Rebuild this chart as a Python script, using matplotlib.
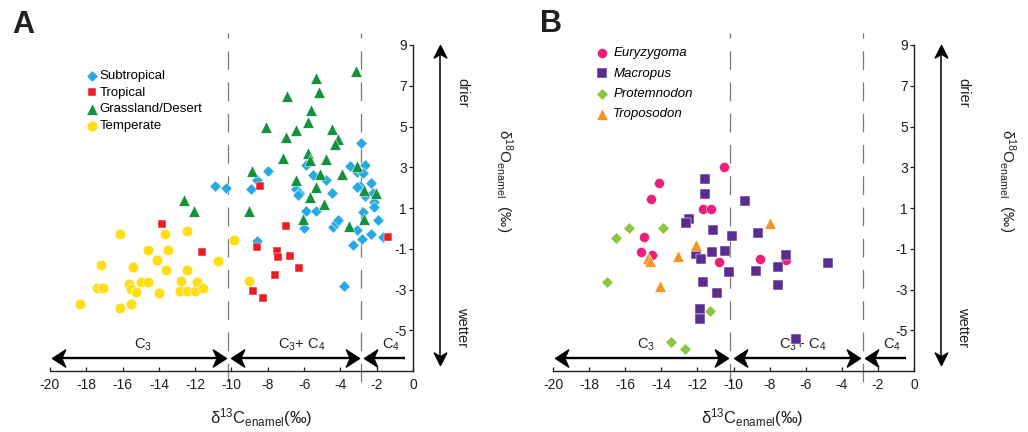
import numpy as np
import matplotlib
matplotlib.use("Agg")
import matplotlib.pyplot as plt
from matplotlib.path import Path

plt.rcParams['font.family'] = ['Liberation Sans', 'DejaVu Sans']
plt.rcParams['mathtext.fontset'] = 'custom'
plt.rcParams['mathtext.rm'] = 'Liberation Sans'
plt.rcParams['mathtext.it'] = 'Liberation Sans:italic'
plt.rcParams['mathtext.bf'] = 'Liberation Sans:bold'
plt.rcParams['axes.unicode_minus'] = False

# ---------------- Panel A: modern kangaroos by habitat ----------------
subtropical_c = [-10.91, -10.32, -8.94, -8.58, -7.97, -8.61, -5.91, -5.53, -6.45, -6.26,
                 -4.81, -4.48, -5.90, -5.34, -5.99, -4.39, -4.24, -4.15, -3.47, -3.10,
                 -2.88, -2.64, -2.77, -2.92, -2.64, -2.31, -2.22, -2.13, -2.13, -2.77,
                 -1.95, -3.10, -2.83, -2.31, -1.67, -3.29, -3.78, -6.35, -3.07]
subtropical_o = [2.09, 1.96, 1.93, 2.35, 2.82, -0.64, 3.13, 2.61, 1.93, 1.76,
                 2.35, 1.76, 0.83, 0.83, 0.00, 0.09, 0.26, 0.39, 3.04, 2.79,
                 4.18, 3.12, 2.71, 2.09, 1.60, 2.22, 1.73, 1.27, 1.04, 0.78,
                 0.42, -0.07, -0.53, -0.28, -0.43, -0.80, -2.85, 1.65, 2.02]

tropical_c = [-13.85, -11.61, -8.43, -8.58, -7.00, -7.51, -7.42, -6.78, -6.26, -7.58,
              -8.83, -8.25, -1.40]
tropical_o = [0.21, -1.18, 2.09, -0.92, 0.13, -1.10, -1.41, -1.34, -1.95, -2.31,
              -3.09, -3.42, -0.40]

grassland_c = [-12.62, -12.05, -8.85, -9.04, -8.10, -6.92, -7.00, -7.14, -6.45, -5.77,
               -5.64, -5.34, -5.16, -4.48, -4.11, -4.30, -5.77, -5.67, -4.79, -6.45,
               -5.12, -3.93, -5.34, -5.67, -4.90, -6.04, -3.51, -3.10, -3.13, -2.70,
               -2.70, -2.04]
grassland_o = [1.37, 0.83, 2.84, 0.83, 5.00, 6.50, 4.47, 3.44, 4.83, 5.23,
               5.81, 7.37, 6.71, 4.87, 4.38, 4.15, 3.69, 3.36, 3.40, 2.38,
               2.68, 2.68, 2.02, 1.53, 1.21, 0.45, 0.13, 3.04, 7.73, 1.89,
               0.45, 1.73]

temperate_c = [-18.35, -17.39, -17.10, -17.21, -16.14, -16.14, -15.63, -15.56, -15.26, -15.41,
               -15.54, -14.99, -14.62, -14.58, -14.12, -13.98, -13.61, -13.66, -13.52, -12.78,
               -12.84, -12.47, -12.47, -12.47, -12.01, -11.92, -11.59, -10.76, -9.86, -9.04]
temperate_o = [-3.70, -2.93, -2.93, -1.78, -0.26, -3.91, -2.72, -2.98, -3.14, -1.90,
               -3.70, -2.63, -2.63, -1.05, -1.57, -3.17, -2.03, -0.26, -1.08, -2.60,
               -3.09, -3.09, -2.06, -0.15, -3.09, -2.63, -2.93, -1.59, -0.59, -2.60]

# ---------------- Panel B: fossil kangaroo genera ----------------
euryzygoma_c = [-10.50, -14.10, -14.55, -11.70, -11.24, -14.97, -15.10, -14.50, -10.82, -8.54, -7.07]
euryzygoma_o = [3.00, 2.24, 1.42, 0.95, 0.95, -0.41, -1.15, -1.31, -1.67, -1.52, -1.56]

macropus_c = [-11.57, -11.57, -9.35, -12.49, -12.62, -11.11, -10.08, -8.67, -12.10, -11.79,
              -11.20, -10.49, -10.27, -8.73, -7.51, -7.11, -4.76, -11.70, -10.93, -7.51,
              -11.83, -11.83, -6.56]
macropus_o = [2.42, 1.68, 1.36, 0.46, 0.24, -0.08, -0.36, -0.21, -1.26, -1.52,
              -1.15, -1.10, -2.16, -2.10, -1.88, -1.31, -1.72, -2.65, -3.19, -2.78,
              -3.98, -4.47, -5.45]

protemnodon_c = [-16.51, -15.78, -13.90, -16.99, -11.28, -13.48, -12.71]
protemnodon_o = [-0.49, 0.03, 0.00, -2.65, -4.04, -5.60, -5.93]

troposodon_c = [-7.99, -12.07, -13.08, -14.73, -14.64, -14.09]
troposodon_o = [0.28, -0.82, -1.34, -1.47, -1.60, -2.83]

# photosynthetic pathway boundaries and zone labels
boundaries = [-10.2, -2.85]
zone_arrows = [(-19.9, -10.3, 'both'), (-10.0, -3.0, 'both'), (-2.7, -0.45, 'left')]
zone_labels = ['C$_{3}$', 'C$_{3}$+ C$_{4}$', 'C$_{4}$']
zone_label_x = [-14.85, -6.15, -1.2]

x_ticks = list(range(-20, 1, 2))
y_ticks = [-5, -3, -1, 1, 3, 5, 7, 9]

INK = '#231f20'
W, H = 1028, 432
fig = plt.figure(figsize=(W / 100, H / 100), dpi=100)


def px_box(left, top, right, bottom):
    return [left / W, 1 - bottom / H, (right - left) / W, (bottom - top) / H]


def stealth(angle_deg, half_width=0.65):
    verts = np.array([[0, 0], [-1, half_width], [-0.7, 0], [-1, -half_width], [0, 0]], float)
    a = np.deg2rad(angle_deg)
    rot = np.array([[np.cos(a), -np.sin(a)], [np.sin(a), np.cos(a)]])
    verts = verts @ rot.T
    codes = [Path.MOVETO, Path.LINETO, Path.LINETO, Path.LINETO, Path.CLOSEPOLY]
    return Path(verts, codes)


def setup_axes(ax):
    ax.set_xlim(-20, 0)
    ax.set_ylim(-7, 9)
    ax.spines['top'].set_visible(False)
    ax.spines['right'].set_visible(False)
    ax.spines['left'].set_position(('data', 0))
    for s in ('left', 'bottom'):
        ax.spines[s].set_linewidth(1.0)
        ax.spines[s].set_color(INK)
    ax.set_xticks(x_ticks)
    ax.set_xticklabels([str(t) for t in x_ticks])
    ax.set_yticks(y_ticks)
    ax.set_yticklabels([str(t) for t in y_ticks])
    ax.tick_params(axis='x', direction='in', length=3, width=0.9, pad=5,
                   labelsize=10, colors=INK)
    ax.tick_params(axis='y', direction='out', length=3, width=0.9, pad=1.5,
                   labelsize=10, colors=INK)
    ax.patch.set_visible(False)

    # pathway boundaries
    for b in boundaries:
        ax.plot([b, b], [-7.55, 9.6], color='#7a7a7a', lw=0.9,
                dashes=(15, 10), clip_on=False, zorder=1)

    # zone arrows
    ya = -6.36
    for (x0, x1, kind), lab, lx in zip(zone_arrows, zone_labels, zone_label_x):
        ax.plot([x0 + 0.3, x1 - (0.3 if kind == 'both' else 0)], [ya, ya],
                color='black', lw=1.7, clip_on=False, zorder=3, solid_capstyle='butt')
        ax.plot([x0], [ya], marker=stealth(180), ms=19, color='black',
                ls='none', clip_on=False, zorder=3)
        if kind == 'both':
            ax.plot([x1], [ya], marker=stealth(0), ms=19, color='black',
                    ls='none', clip_on=False, zorder=3)
        ax.text(lx, -5.72, lab, ha='center', va='center', fontsize=10.5, color=INK)

    # wetness arrow
    xv = 1.47
    ax.plot([xv, xv], [8.6, -6.3], color='black', lw=1.1, clip_on=False)
    ax.plot([xv], [9.0], marker=stealth(90, 0.5), ms=18, color='black',
            ls='none', clip_on=False)
    ax.plot([xv], [-6.72], marker=stealth(-90, 0.5), ms=18, color='black',
            ls='none', clip_on=False)
    ax.text(2.72, 6.64, 'drier', rotation=-90, ha='center', va='center',
            fontsize=10.5, color=INK, clip_on=False)
    ax.text(2.72, -4.84, 'wetter', rotation=-90, ha='center', va='center',
            fontsize=10.5, color=INK, clip_on=False)


ylabel = 'δ$^{18}$O$_{\\mathrm{enamel}}$  (‰)'
xlabel = 'δ$^{13}$C$_{\\mathrm{enamel}}$(‰)'

# ---------------- Panel A ----------------
axA = fig.add_axes(px_box(50, 45, 413, 371))
setup_axes(axA)
edge = dict(edgecolors='white', linewidths=0.35, clip_on=False, zorder=4)
hA = [
    axA.scatter(subtropical_c, subtropical_o, marker='D', s=34, c='#27a9e1', label='Subtropical', **edge),
    axA.scatter(tropical_c, tropical_o, marker='s', s=40, c='#ec1c24', label='Tropical', **edge),
    axA.scatter(grassland_c, grassland_o, marker='^', s=68, c='#13923e', label='Grassland/Desert', **edge),
    axA.scatter(temperate_c, temperate_o, marker='o', s=58, c='#ffde17', label='Temperate', **edge),
]
axA.legend(handles=hA, loc='upper left', bbox_to_anchor=(85.5 / W, 1 - 70 / H),
           bbox_transform=fig.transFigure, frameon=False, fontsize=9.5,
           handlelength=1.0, handletextpad=0.05, labelspacing=0.33,
           borderpad=0, borderaxespad=0, scatterpoints=1)
axA.text(5.0, 2.35, ylabel, rotation=-90, ha='center', va='center', fontsize=11,
         color=INK, clip_on=False)
fig.text(261 / W, 1 - 418 / H, xlabel, ha='center', va='center', fontsize=12, color=INK)
fig.text(12 / W, 1 - 33 / H, 'A', fontsize=22, fontweight='bold', color=INK, va='baseline')

# ---------------- Panel B ----------------
axB = fig.add_axes(px_box(553, 45, 914, 371))
setup_axes(axB)
hB = [
    axB.scatter(euryzygoma_c, euryzygoma_o, marker='o', s=52, c='#ec1f7a', label='Euryzygoma', **edge),
    axB.scatter(macropus_c, macropus_o, marker='s', s=45, c='#5c2d91', label='Macropus', **edge),
    axB.scatter(protemnodon_c, protemnodon_o, marker='D', s=35, c='#8cc63f', label='Protemnodon', **edge),
    axB.scatter(troposodon_c, troposodon_o, marker='^', s=68, c='#f7941d', label='Troposodon', **edge),
]
legB = axB.legend(handles=hB, loc='upper left', bbox_to_anchor=(595.5 / W, 1 - 47 / H),
                  bbox_transform=fig.transFigure, frameon=False, fontsize=9.5,
                  handlelength=1.0, handletextpad=0.35, labelspacing=0.62,
                  borderpad=0, borderaxespad=0, scatterpoints=1)
for t in legB.get_texts():
    t.set_fontstyle('italic')
axB.text(5.15, 2.35, ylabel, rotation=-90, ha='center', va='center', fontsize=11,
         color=INK, clip_on=False)
fig.text(752 / W, 1 - 418 / H, xlabel, ha='center', va='center', fontsize=12, color=INK)
fig.text(540 / W, 1 - 32 / H, 'B', fontsize=22, fontweight='bold', color=INK, va='baseline')

fig.savefig('out.png', dpi=100)
